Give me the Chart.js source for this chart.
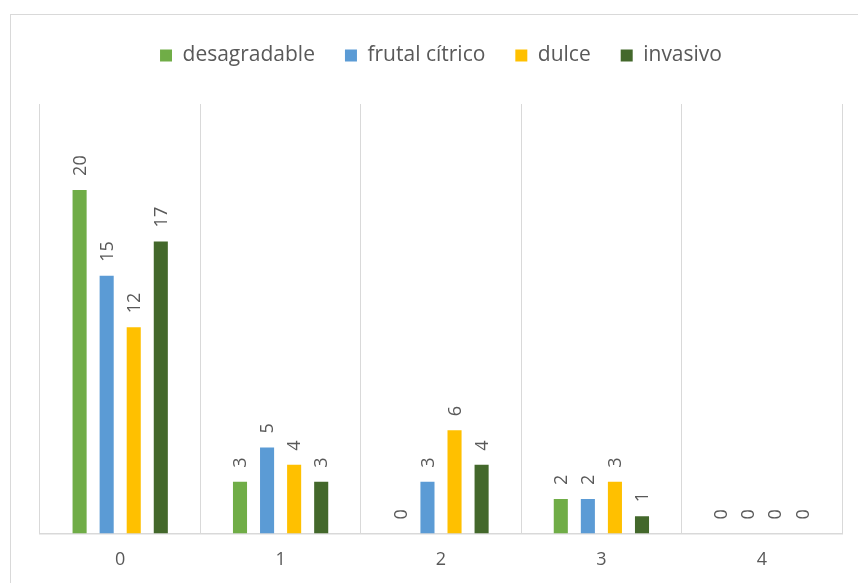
<!DOCTYPE html>
<html>
<head>
<meta charset="utf-8">
<script src="https://cdn.jsdelivr.net/npm/chart.js@4.4.1/dist/chart.umd.min.js"></script>
<style>
html,body{margin:0;padding:0;background:#fff;}
#wrap{position:relative;width:858px;height:583px;}
</style>
</head>
<body>
<div id="wrap"><canvas id="c" width="858" height="583"></canvas></div>
<script>
const categories = ["0", "1", "2", "3", "4"];
const seriesNames = ["desagradable", "frutal cítrico", "dulce", "invasivo"];
const desagradable = [20, 3, 0, 2, 0];
const frutalCitrico = [15, 5, 3, 2, 0];
const dulce = [12, 4, 6, 3, 0];
const invasivo = [17, 3, 4, 1, 0];
const seriesColors = ["#70ad47", "#5b9bd5", "#ffc000", "#43682b"];

const FONT = "'Open Sans', 'Noto Sans', sans-serif";
const TEXT = "#595959";

const frame = {
  id: 'frame',
  beforeDraw(chart) {
    const ctx = chart.ctx;
    ctx.save();
    ctx.fillStyle = '#fff';
    ctx.fillRect(0, 0, chart.width, chart.height);
    ctx.strokeStyle = '#d9d9d9';
    ctx.lineWidth = 1;
    ctx.strokeRect(10.5, 14.5, 1000, 1000);
    ctx.restore();
  }
};

const legendSpacer = {
  id: 'legendSpacer',
  beforeLayout(chart) {
    const lg = chart.legend;
    if (lg && !lg._patched) {
      const f = lg.fit;
      lg.fit = function () { f.call(this); this.height += 28; };
      lg._patched = true;
    }
  }
};

const barLabels = {
  id: 'barLabels',
  afterDatasetsDraw(chart) {
    const ctx = chart.ctx;
    ctx.save();
    ctx.fillStyle = TEXT;
    ctx.font = "18px " + FONT;
    ctx.textAlign = 'left';
    ctx.textBaseline = 'middle';
    chart.data.datasets.forEach((ds, di) => {
      const meta = chart.getDatasetMeta(di);
      meta.data.forEach((el, i) => {
        ctx.save();
        ctx.translate(el.x + 1, el.y - 14);
        ctx.rotate(-Math.PI / 2);
        ctx.fillText(String(ds.data[i]), 0, 0);
        ctx.restore();
      });
    });
    ctx.restore();
  }
};

const seriesData = [desagradable, frutalCitrico, dulce, invasivo];

new Chart(document.getElementById('c'), {
  type: 'bar',
  data: {
    labels: categories,
    datasets: seriesNames.map((n, k) => ({
      label: n,
      data: seriesData[k],
      backgroundColor: seriesColors[k],
      borderWidth: 0,
      categoryPercentage: 0.675,
      barPercentage: 0.52
    }))
  },
  options: {
    responsive: false,
    animation: false,
    devicePixelRatio: 1,
    layout: { padding: { left: 40, right: 16, top: 15, bottom: -4 } },
    plugins: {
      legend: {
        position: 'top',
        labels: {
          font: { family: FONT, size: 21 },
          color: TEXT,
          boxWidth: 12,
          boxHeight: 12,
          padding: 30
        }
      },
      tooltip: { enabled: false },
      title: { display: false }
    },
    scales: {
      x: {
        grid: { display: true, color: '#d9d9d9', lineWidth: 1, drawTicks: false, offset: true },
        border: { display: true, color: '#d9d9d9', width: 1.5 },
        ticks: { font: { family: FONT, size: 18 }, color: TEXT, padding: 16 }
      },
      y: {
        display: false,
        min: 0,
        max: 25
      }
    }
  },
  plugins: [frame, legendSpacer, barLabels]
});
</script>
</body>
</html>
